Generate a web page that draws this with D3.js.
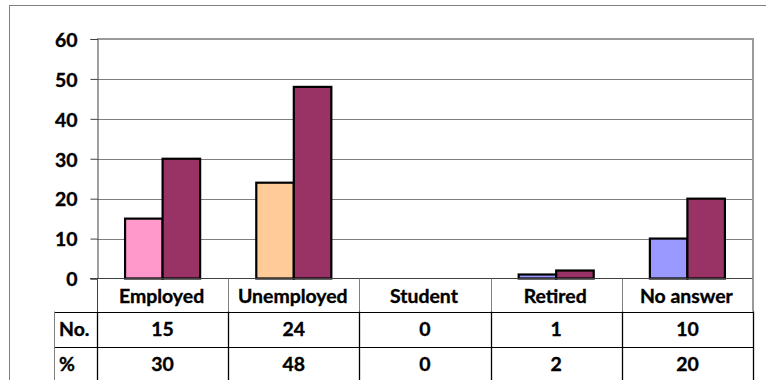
<!DOCTYPE html>
<html>
<head>
<meta charset="utf-8">
<script src="https://cdn.jsdelivr.net/npm/d3@7"></script>
<style>
  body { margin: 0; background: #fff; }
  svg { display: block; font-family: Lato, "Open Sans", sans-serif; font-weight: bold; }
</style>
</head>
<body>
<svg id="chart" width="766" height="380"></svg>
<script>
// chart data
const categories = ["Employed", "Unemployed", "Student", "Retired", "No answer"];
const countValues = [15, 24, 0, 1, 10];
const percentValues = [30, 48, 0, 2, 20];
const yTicks = [0, 10, 20, 30, 40, 50, 60];
const rowLabels = ["No.", "%"];
const countColors = ["#FF99CC", "#FFCC99", "#CCFFCC", "#9999FF", "#9999FF"];
const percentColor = "#993366";

const svg = d3.select("#chart");
const plot = { left: 97, right: 753, top: 39, bottom: 278.5 };
const fontSize = 18.5;
const stretch = 1.05;

// outer chart border
svg.append("rect")
    .attr("x", 9.5).attr("y", 5.5)
    .attr("width", 800).attr("height", 400)
    .attr("fill", "none").attr("stroke", "#7f7f7f");

const x = d3.scaleBand()
    .domain(categories)
    .range([plot.left, plot.right]);

const y = d3.scaleLinear()
    .domain([0, 60])
    .range([plot.bottom, plot.top]);

// draws one label
function label(g, txt, tx, ty, anchor) {
    return g.append("text")
        .attr("transform", `translate(${tx},${ty}) scale(${stretch},1)`)
        .attr("text-anchor", anchor)
        .attr("dominant-baseline", "central")
        .attr("font-family", "Lato, sans-serif")
        .attr("font-size", fontSize)
        .attr("font-weight", "bold")
        .attr("fill", "#000")
        .attr("stroke", "#000").attr("stroke-width", 0.35)
        .text(txt);
}

// gridlines
svg.append("g")
    .selectAll("line")
    .data(yTicks.filter(t => t > 0 && t < 60))
    .enter().append("line")
    .attr("x1", plot.left).attr("x2", plot.right)
    .attr("y1", d => Math.round(y(d)) + 0.5)
    .attr("y2", d => Math.round(y(d)) + 0.5)
    .attr("stroke", "#7f7f7f");

// plot area border top/right
svg.append("path")
    .attr("d", `M${plot.left},${plot.top} H${plot.right} V${plot.bottom}`)
    .attr("fill", "none").attr("stroke", "#9a9a9a").attr("stroke-width", 2);

// y axis
const yAxis = d3.axisLeft(y).tickValues(yTicks).tickSize(7).tickFormat(d3.format("d"));
const yg = svg.append("g")
    .attr("transform", `translate(${plot.left + 0.5},0)`)
    .call(yAxis);
yg.select(".domain").attr("stroke", "#404040");
yg.selectAll(".tick line").attr("stroke", "#404040");
yg.selectAll(".tick text").remove();
yg.selectAll(".tick").each(function(d) {
    label(d3.select(this), d, -20, 0, "end");
});

// bars
const groupW = x.bandwidth() * 0.572;
const barW = groupW / 2;
const groups = svg.append("g").selectAll("g")
    .data(categories)
    .enter().append("g")
    .attr("transform", d => `translate(${x(d) + (x.bandwidth() - groupW) / 2},0)`);

groups.filter((d, i) => countValues[i] > 0)
    .append("rect")
    .attr("x", 0)
    .attr("y", d => y(countValues[categories.indexOf(d)]))
    .attr("width", barW)
    .attr("height", d => plot.bottom - y(countValues[categories.indexOf(d)]))
    .attr("fill", d => countColors[categories.indexOf(d)])
    .attr("stroke", "#000").attr("stroke-width", 2.2);

groups.filter((d, i) => percentValues[i] > 0)
    .append("rect")
    .attr("x", barW)
    .attr("y", d => y(percentValues[categories.indexOf(d)]))
    .attr("width", barW)
    .attr("height", d => plot.bottom - y(percentValues[categories.indexOf(d)]))
    .attr("fill", percentColor)
    .attr("stroke", "#000").attr("stroke-width", 2.2);

// zero line
svg.append("line")
    .attr("x1", plot.left - 7).attr("x2", plot.right)
    .attr("y1", plot.bottom).attr("y2", plot.bottom)
    .attr("stroke", "#404040");

// data table
const rowH = [33, 35, 35];
const rowTop = [plot.bottom, plot.bottom + rowH[0], plot.bottom + rowH[0] + rowH[1]];
const table = svg.append("g");

// header separators
table.selectAll(".hsep")
    .data(categories.slice(1))
    .enter().append("line")
    .attr("x1", d => Math.round(x(d)) + 0.5).attr("x2", d => Math.round(x(d)) + 0.5)
    .attr("y1", rowTop[0]).attr("y2", rowTop[1])
    .attr("stroke", "#7f7f7f");
table.append("line")
    .attr("x1", plot.right).attr("x2", plot.right)
    .attr("y1", rowTop[0]).attr("y2", rowTop[1])
    .attr("stroke", "#9a9a9a").attr("stroke-width", 2);

// horizontal row lines
[rowTop[1], rowTop[2]].forEach(yy => {
    table.append("line")
        .attr("x1", 54).attr("x2", plot.right)
        .attr("y1", Math.round(yy) + 0.5).attr("y2", Math.round(yy) + 0.5)
        .attr("stroke", "#000");
});
// vertical lines in data rows
const vx = [plot.left].concat(categories.slice(1).map(d => x(d))).concat([plot.right]);
table.selectAll(".vsep")
    .data(vx)
    .enter().append("line")
    .attr("x1", d => Math.round(d) + 0.5).attr("x2", d => Math.round(d) + 0.5)
    .attr("y1", rowTop[1]).attr("y2", 380)
    .attr("stroke", "#000").attr("stroke-width", 1.3);
table.append("line")
    .attr("x1", 54.5).attr("x2", 54.5)
    .attr("y1", rowTop[1]).attr("y2", 380)
    .attr("stroke", "#7f7f7f");
table.append("line")
    .attr("x1", plot.left + 0.5).attr("x2", plot.left + 0.5)
    .attr("y1", rowTop[0]).attr("y2", rowTop[1])
    .attr("stroke", "#404040");

categories.forEach(c => {
    label(table, c, x(c) + x.bandwidth() / 2 - 1, rowTop[0] + rowH[0] / 2 + 1, "middle");
});

rowLabels.forEach((lab, r) => {
    label(table, lab, 59, rowTop[r + 1] + rowH[r + 1] / 2, "start");
});

[countValues, percentValues].forEach((vals, r) => {
    vals.forEach((v, i) => {
        label(table, v, x(categories[i]) + x.bandwidth() / 2, rowTop[r + 1] + rowH[r + 1] / 2, "middle");
    });
});
</script>
</body>
</html>
